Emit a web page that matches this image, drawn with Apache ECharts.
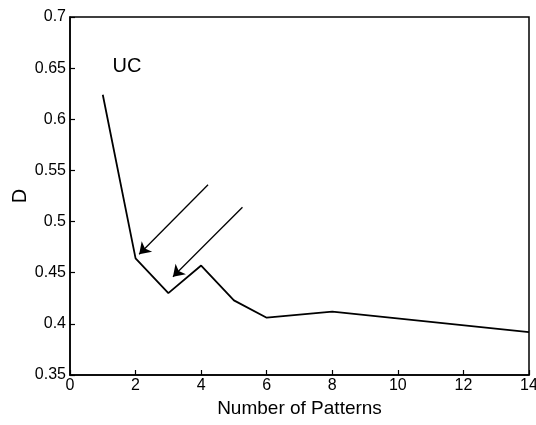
<!DOCTYPE html>
<html>
<head>
<meta charset="utf-8">
<script src="https://cdn.jsdelivr.net/npm/echarts@6/dist/echarts.min.js"></script>
<style>html,body{margin:0;padding:0;background:#fff}#c{width:536px;height:425px}</style>
</head>
<body>
<div id="c"></div>
<script>
const patterns = [1, 2, 3, 4, 5, 6, 8, 14];
const dValues = [0.624, 0.464, 0.430, 0.457, 0.423, 0.406, 0.412, 0.392];
const xTicks = [0, 2, 4, 6, 8, 10, 12, 14];
const yTicks = [0.35, 0.4, 0.45, 0.5, 0.55, 0.6, 0.65, 0.7];
const arrow1 = [[4.21, 0.536], [2.11, 0.468]];
const arrow2 = [[5.26, 0.514], [3.14, 0.446]];
const label = { text: 'UC', x: 1.3, y: 0.652 };

const chart = echarts.init(document.getElementById('c'));
const font = 'Liberation Sans, Arial, Helvetica, sans-serif';
chart.setOption({
  animation: false,
  backgroundColor: '#fff',
  grid: { left: 70, right: 7, top: 17, bottom: 50, outerBoundsMode: 'none', containLabel: false,
    show: true, borderColor: '#000', borderWidth: 1.5, backgroundColor: 'transparent' },
  xAxis: {
    type: 'value', min: 0, max: 14, interval: 2,
    name: 'Number of Patterns', nameLocation: 'middle', nameGap: 24, nameMoveOverlap: false,
    nameTextStyle: { fontFamily: font, fontSize: 19, color: '#000' },
    axisLine: { show: true, lineStyle: { color: '#000', width: 1.5 } },
    axisTick: { show: true, inside: true, length: 5, lineStyle: { color: '#000', width: 1.2 } },
    axisLabel: { fontFamily: font, fontSize: 16, color: '#000', margin: 3 },
    splitLine: { show: false }
  },
  yAxis: {
    type: 'value', min: 0.35, max: 0.7, interval: 0.05,
    name: 'D', nameLocation: 'middle', nameGap: 40, nameMoveOverlap: false,
    nameTextStyle: { fontFamily: font, fontSize: 20, color: '#000' },
    axisLine: { show: true, lineStyle: { color: '#000', width: 1.5 } },
    axisTick: { show: true, inside: true, length: 5, lineStyle: { color: '#000', width: 1.2 } },
    axisLabel: { fontFamily: font, fontSize: 16, color: '#000', margin: 4,
      formatter: v => String(Math.round(v * 100) / 100) },
    splitLine: { show: false }
  },
  series: [
    {
      type: 'line',
      data: patterns.map((p, i) => [p, dValues[i]]),
      showSymbol: false, symbol: 'none',
      lineStyle: { color: '#000', width: 1.8 },
      markLine: {
        silent: true,
        symbol: ['none', 'arrow'], symbolSize: 11,
        label: { show: false },
        lineStyle: { color: '#000', width: 1.3, type: 'solid' },
        data: [
          [{ coord: arrow1[0] }, { coord: arrow1[1] }],
          [{ coord: arrow2[0] }, { coord: arrow2[1] }]
        ]
      }
    },
    {
      type: 'scatter',
      data: [[label.x, label.y]],
      symbolSize: 0,
      itemStyle: { opacity: 1 },
      label: { show: true, position: 'right', distance: 0, formatter: label.text,
        fontFamily: font, fontSize: 20, color: '#000', opacity: 1 }
    }
  ]
});
</script>
</body>
</html>
